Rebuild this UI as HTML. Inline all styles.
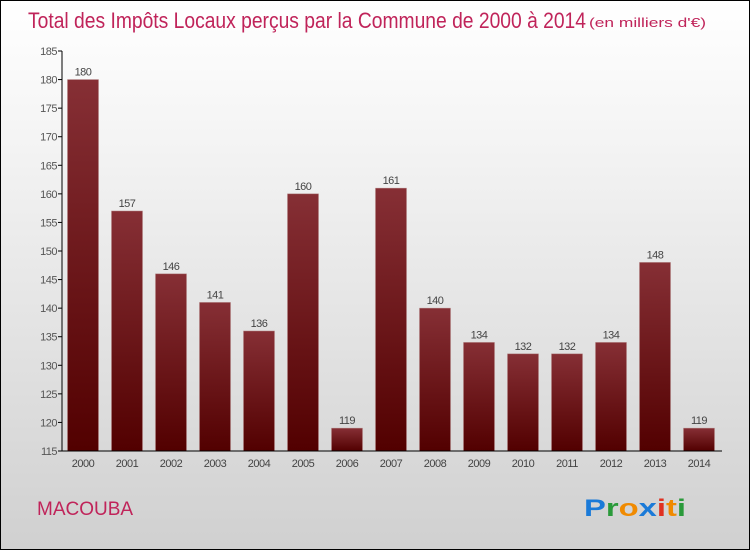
<!DOCTYPE html>
<html><head><meta charset="utf-8"><style>
body{margin:0;}
#c{width:750px;height:550px;position:relative;box-sizing:border-box;border:1px solid #000;background:linear-gradient(#fff,#f4f4f4 25%,#d0d0d0);overflow:hidden;font-family:"Liberation Sans",sans-serif;}
</style></head><body>
<div id="c">
<svg id="s" width="750" height="550" style="position:absolute;left:0;top:0">
<defs><linearGradient id="g" x1="0" y1="0" x2="0" y2="1"><stop offset="0" stop-color="#862f35"/><stop offset="1" stop-color="#520000"/></linearGradient></defs>
<text x="27" y="27" font-size="22" fill="#c0245a" font-weight="100" textLength="558" lengthAdjust="spacingAndGlyphs">Total des Impôts Locaux perçus par la Commune de 2000 à 2014</text>
<text x="588" y="26" font-size="13" fill="#c0245a" textLength="117" lengthAdjust="spacingAndGlyphs">(en milliers d'€)</text>
<text x="36" y="514" font-size="19" fill="#c0245a">MACOUBA</text>
<text x="583" y="515" font-family="Liberation Sans" font-size="24" font-weight="bold" textLength="102" lengthAdjust="spacingAndGlyphs"><tspan fill="#1a7ad8">P</tspan><tspan fill="#2a9a3a">r</tspan><tspan fill="#f08a00">o</tspan><tspan fill="#1a7ad8">x</tspan><tspan fill="#e03020">i</tspan><tspan fill="#f08a00">t</tspan><tspan fill="#2a9a3a">i</tspan></text>
<g id="plot"></g>
</svg>
</div>
<script>
const years=["2000","2001","2002","2003","2004","2005","2006","2007","2008","2009","2010","2011","2012","2013","2014"];
const values=[180,157,146,141,136,160,119,161,140,134,132,132,134,148,119];
const ticks=[115,120,125,130,135,140,145,150,155,160,165,170,175,180,185];
const ns="http://www.w3.org/2000/svg";
const g=document.getElementById('plot');
const y=v=>450-(v-115)*400/70;
const x=i=>82+i*44;
function mk(t,a,p){const e=document.createElementNS(ns,t);for(const k in a)e.setAttribute(k,a[k]);(p||g).appendChild(e);return e;}
ticks.forEach(t=>{
 const l=mk('line',{x1:57,x2:61,y1:y(t),y2:y(t),stroke:'#000'});
 
 
 const tx=mk('text',{x:56,y:y(t)+4,'font-size':11,fill:'#555','text-anchor':'end','letter-spacing':'-0.5'});tx.textContent=t;
 
 
});
values.forEach((v,i)=>{
 const r=mk('rect',{x:x(i)-15.5,y:y(v),width:31,height:450-y(v),fill:'url(#g)',stroke:'#b08080','stroke-width':0.5});
 
 
 const lb=mk('text',{x:x(i),y:y(v)-4,'font-size':11,fill:'#444','text-anchor':'middle','letter-spacing':'-0.5'});lb.textContent=v;
 
 
 const xl=mk('text',{x:x(i),y:466,'font-size':11,fill:'#444','text-anchor':'middle','letter-spacing':'-0.5'});xl.textContent=years[i];
 
 
});
const ya=mk('line',{x1:61,x2:61,y1:50,y2:450,stroke:'#000'});


const xa=mk('line',{x1:61,x2:721,y1:450,y2:450,stroke:'#000'});


</script>
</body></html>
